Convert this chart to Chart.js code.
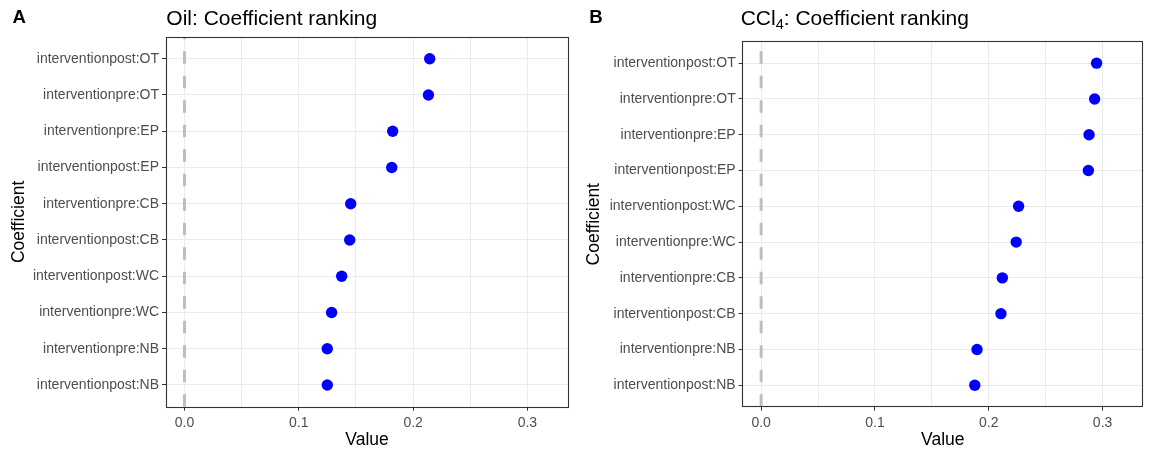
<!DOCTYPE html>
<html>
<head>
<meta charset="utf-8">
<script src="https://cdn.jsdelivr.net/npm/chart.js@4/dist/chart.umd.min.js"></script>
<style>
  html, body { margin: 0; padding: 0; background: #fff; }
  #wrap { position: relative; width: 1150px; height: 453px; font-family: 'Liberation Sans', Arial, sans-serif; }
  canvas { position: absolute; top: 0; }
  .tag { position: absolute; top: 8.3px; font-size: 18.6px; line-height: 1; font-weight: bold; color: #000; }
  .title { position: absolute; top: 7.2px; font-size: 21px; line-height: 1; color: #000; white-space: nowrap; }
  .title sub { font-size: 14.5px; vertical-align: -4px; line-height: 0; }
</style>
</head>
<body>
<div id="wrap">
  <canvas id="oilChart" width="575" height="453" style="left:0"></canvas>
  <canvas id="cclChart" width="575" height="453" style="left:575px"></canvas>
  <div class="tag" style="left:12.5px">A</div>
  <div class="title" style="left:166.3px">Oil: Coefficient ranking</div>
  <div class="tag" style="left:589.3px">B</div>
  <div class="title" style="left:740.7px">CCl<sub>4</sub>: Coefficient ranking</div>
</div>
<script>
// data, top to bottom as shown
const oilLabels = ['interventionpost:OT','interventionpre:OT','interventionpre:EP','interventionpost:EP','interventionpre:CB',
  'interventionpost:CB','interventionpost:WC','interventionpre:WC','interventionpre:NB','interventionpost:NB'];
const oilValues = [0.2145, 0.2134, 0.1821, 0.1813, 0.1454, 0.1445, 0.1375, 0.1287, 0.1249, 0.1249];

const cclLabels = ['interventionpost:OT','interventionpre:OT','interventionpre:EP','interventionpost:EP','interventionpost:WC',
  'interventionpre:WC','interventionpre:CB','interventionpost:CB','interventionpre:NB','interventionpost:NB'];
const cclValues = [0.2947, 0.2930, 0.2881, 0.2875, 0.2262, 0.2241, 0.2119, 0.2107, 0.1897, 0.1877];

const xTicks = [0, 0.05, 0.1, 0.15, 0.2, 0.25, 0.3];
const xMajor = [0, 0.1, 0.2, 0.3];
const refX = 0;

Chart.defaults.font.family = "'Liberation Sans', Arial, sans-serif";

const panelBorder = {
  id: 'panelBorder',
  afterDatasetsDraw(chart){
    const {ctx, chartArea:a} = chart;
    ctx.save();
    ctx.strokeStyle = '#333333';
    ctx.lineWidth = 1.1;
    ctx.strokeRect(Math.floor(a.left)+0.5, Math.floor(a.top)+0.5, Math.round(a.right-a.left), Math.round(a.bottom-a.top));
    ctx.restore();
  }
};

function makePanel(id, labels, values, box){
  const n = labels.length;
  new Chart(document.getElementById(id), {
    type: 'scatter',
    data: {
      datasets: [
        {
          data: values.map((v,i)=>({x:v, y:i+1})),
          backgroundColor: '#0000FF',
          borderWidth: 0,
          pointRadius: 5.7,
          order: 0
        },
        {
          type: 'line',
          data: [{x:refX, y:n+0.6}, {x:refX, y:0.4}],
          borderColor: '#BEBEBE',
          borderWidth: 3,
          borderDash: [12.5, 12],
          pointRadius: 0,
          fill: false,
          order: 1
        }
      ]
    },
    options: {
      responsive: false,
      devicePixelRatio: 1,
      animation: false,
      layout: { padding: { top: box.top, right: 7, left: 0, bottom: 0 } },
      plugins: { legend: { display: false }, tooltip: { enabled: false } },
      scales: {
        x: {
          type: 'linear', min: -0.0162, max: 0.3355,
          afterBuildTicks: ax => { ax.ticks = xTicks.map(v=>({value:v})); },
          afterFit: ax => { ax.height = 453 - 406.7; },
          ticks: {
            autoSkip: false, maxRotation: 0, padding: 4,
            color: '#4D4D4D', font: { size: 14 },
            callback: v => xMajor.includes(v) ? v.toFixed(1) : ''
          },
          grid: {
            color: '#EBEBEB', lineWidth: 1, tickLength: 4,
            tickColor: c => xMajor.includes(c.tick && c.tick.value) ? '#333333' : 'rgba(0,0,0,0)'
          },
          border: { display: false },
          title: { display: true, text: 'Value', color: '#000', font: { size: 17.5 }, padding: { top: 0, bottom: 2 } }
        },
        y: {
          type: 'linear', reverse: true, min: 0.4, max: n + 0.6,
          afterBuildTicks: ax => { ax.ticks = labels.map((_,i)=>({value:i+1})); },
          afterFit: ax => { ax.width = box.yWidth; },
          ticks: {
            autoSkip: false, padding: 3,
            color: '#4D4D4D', font: { size: 14 },
            callback: v => labels[v-1]
          },
          grid: { color: '#EBEBEB', lineWidth: 1, tickLength: 4, tickColor: '#333333' },
          border: { display: false },
          title: { display: true, text: 'Coefficient', color: '#000', font: { size: 17.5 }, padding: { top: 8.5, bottom: 0 } }
        }
      }
    },
    plugins: [panelBorder]
  });
}

makePanel('oilChart', oilLabels, oilValues, { top: 37, yWidth: 166 });
makePanel('cclChart', cclLabels, cclValues, { top: 41.7, yWidth: 167.7 });
</script>
</body>
</html>
